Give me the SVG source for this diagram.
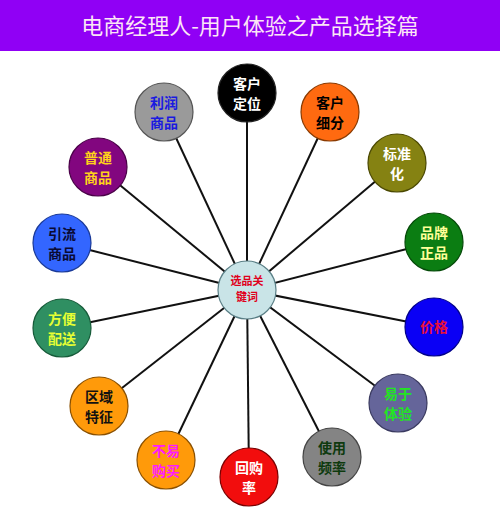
<svg xmlns="http://www.w3.org/2000/svg" width="500" height="517" viewBox="0 0 500 517">
<style>
.n{stroke-width:1.2}
.t{font-family:"Noto Sans CJK SC","Noto Sans CJK JP",sans-serif;font-size:14px;font-weight:bold;text-anchor:middle}
.t.s{font-size:11px}
.c{stroke:#111;stroke-width:2}
</style>
<rect x="0" y="0" width="500" height="517" fill="#fff"/>
<g id="title">
<rect x="0" y="0" width="500" height="51" fill="#9000F5"/>
<text x="250" y="34" font-family="'Noto Sans CJK SC',sans-serif" font-size="22" fill="#FCE6F5" text-anchor="middle">电商经理人-用户体验之产品选择篇</text>
</g>
<g id="connectors">
<line class="c" x1="247" y1="290" x2="247" y2="93"/>
<line class="c" x1="247" y1="290" x2="164" y2="112"/>
<line class="c" x1="247" y1="290" x2="330" y2="112"/>
<line class="c" x1="247" y1="290" x2="397" y2="163"/>
<line class="c" x1="247" y1="290" x2="434" y2="242"/>
<line class="c" x1="247" y1="290" x2="434" y2="327"/>
<line class="c" x1="247" y1="290" x2="398" y2="403"/>
<line class="c" x1="247" y1="290" x2="332" y2="457"/>
<line class="c" x1="247" y1="290" x2="249" y2="477"/>
<line class="c" x1="247" y1="290" x2="166" y2="460"/>
<line class="c" x1="247" y1="290" x2="99" y2="406"/>
<line class="c" x1="247" y1="290" x2="62" y2="328"/>
<line class="c" x1="247" y1="290" x2="62" y2="243"/>
<line class="c" x1="247" y1="290" x2="98" y2="167"/>
</g>
<g id="center"><circle class="n" cx="247" cy="290" r="29" fill="#C9E4E7" stroke="#5A7F86"/><text class="t s" x="247" y="285" fill="#E0001B">选品关</text><text class="t s" x="247" y="301" fill="#E0001B">键词</text></g>
<g id="n1"><circle class="n" cx="247" cy="93" r="29" fill="#000" stroke="#222"/><text class="t" x="247" y="89" fill="#fff">客户</text><text class="t" x="247" y="109" fill="#fff">定位</text></g>
<g id="n2"><circle class="n" cx="164" cy="112" r="29" fill="#9A9A9A" stroke="#555"/><text class="t" x="164" y="108" fill="#1A1AE0">利润</text><text class="t" x="164" y="128" fill="#1A1AE0">商品</text></g>
<g id="n3"><circle class="n" cx="330" cy="112" r="29" fill="#FF6A10" stroke="#8A3A00"/><text class="t" x="330" y="108" fill="#000">客户</text><text class="t" x="330" y="128" fill="#000">细分</text></g>
<g id="n4"><circle class="n" cx="397" cy="163" r="29" fill="#858212" stroke="#4A4800"/><text class="t" x="397" y="159" fill="#fff">标准</text><text class="t" x="397" y="179" fill="#fff">化</text></g>
<g id="n5"><circle class="n" cx="434" cy="242" r="29" fill="#0B7D12" stroke="#044A08"/><text class="t" x="434" y="238" fill="#FFFF99">品牌</text><text class="t" x="434" y="258" fill="#FFFF99">正品</text></g>
<g id="n6"><circle class="n" cx="434" cy="327" r="29" fill="#0A00F5" stroke="#00008A"/><text class="t" x="434" y="332" fill="#E8103A">价格</text></g>
<g id="n7"><circle class="n" cx="398" cy="403" r="29" fill="#65659A" stroke="#3A3A60"/><text class="t" x="398" y="399" fill="#22E622">易于</text><text class="t" x="398" y="419" fill="#22E622">体验</text></g>
<g id="n8"><circle class="n" cx="332" cy="457" r="29" fill="#848484" stroke="#444"/><text class="t" x="332" y="453" fill="#0E3A0E">使用</text><text class="t" x="332" y="473" fill="#0E3A0E">频率</text></g>
<g id="n9"><circle class="n" cx="249" cy="477" r="29" fill="#F20D0D" stroke="#7A0000"/><text class="t" x="249" y="473" fill="#fff">回购</text><text class="t" x="249" y="493" fill="#fff">率</text></g>
<g id="n10"><circle class="n" cx="166" cy="460" r="29" fill="#FF9A0A" stroke="#8A5000"/><text class="t" x="166" y="456" fill="#FF1AFF">不易</text><text class="t" x="166" y="476" fill="#FF1AFF">购买</text></g>
<g id="n11"><circle class="n" cx="99" cy="406" r="29" fill="#FF9A0A" stroke="#8A5000"/><text class="t" x="99" y="402" fill="#111">区域</text><text class="t" x="99" y="422" fill="#111">特征</text></g>
<g id="n12"><circle class="n" cx="62" cy="328" r="29" fill="#2F8F62" stroke="#155A38"/><text class="t" x="62" y="324" fill="#E6FF33">方便</text><text class="t" x="62" y="344" fill="#E6FF33">配送</text></g>
<g id="n13"><circle class="n" cx="62" cy="243" r="29" fill="#3366FF" stroke="#1A3A99"/><text class="t" x="62" y="239" fill="#0A0A33">引流</text><text class="t" x="62" y="259" fill="#0A0A33">商品</text></g>
<g id="n14"><circle class="n" cx="98" cy="167" r="29" fill="#82067F" stroke="#4A0048"/><text class="t" x="98" y="163" fill="#FFD21A">普通</text><text class="t" x="98" y="183" fill="#FFD21A">商品</text></g>
</svg>
